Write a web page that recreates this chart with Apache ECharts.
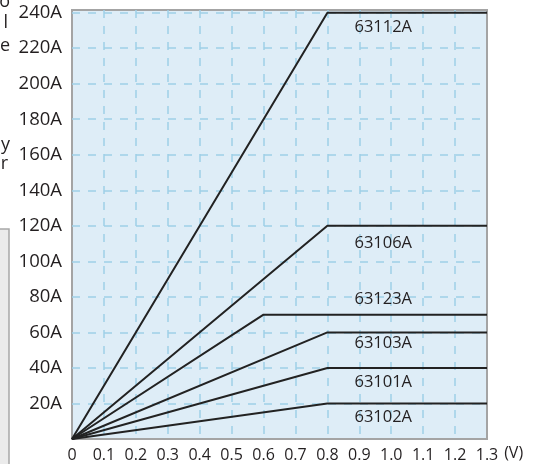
<!DOCTYPE html>
<html><head><meta charset="utf-8">
<script src="https://cdn.jsdelivr.net/npm/echarts@6/dist/echarts.min.js"></script>
<style>html,body{margin:0;padding:0;background:#fff}#c{width:538px;height:464px}</style>
</head><body><div id="c"></div>
<script>
// Data
const models = ['63112A', '63106A', '63123A', '63103A', '63101A', '63102A'];
const kneeVolt = [0.8, 0.8, 0.6, 0.8, 0.8, 0.8];
const maxCurrent = [240, 120, 70, 60, 40, 20];
const endVolt = 1.3;
const xTicks = ['0', '0.1', '0.2', '0.3', '0.4', '0.5', '0.6', '0.7', '0.8', '0.9', '1.0', '1.1', '1.2', '1.3'];
const yTicks = ['20A', '40A', '60A', '80A', '100A', '120A', '140A', '160A', '180A', '200A', '220A', '240A'];

// Layout (label placement, not data)
const labelX = 0.975;
const labelDy = [15, 17, -15, 11, 14, 14];

const FONT = 'Open Sans';
const chart = echarts.init(document.getElementById('c'), null, {renderer: 'canvas'});

const series = models.map((m, i) => ({
  type: 'line',
  name: m,
  data: [[0, 0], [kneeVolt[i], maxCurrent[i]], [endVolt, maxCurrent[i]]],
  symbol: 'none',
  lineStyle: {color: '#222', width: 2},
  silent: true,
  markPoint: {
    symbol: 'circle', symbolSize: 0, silent: true,
    data: [{coord: [labelX, maxCurrent[i]], name: m,
      label: {show: true, position: 'inside', formatter: m, offset: [0, labelDy[i]],
        color: '#231f20', fontSize: 16.5, fontFamily: FONT}}]
  }
}));

const split = {show: true, showMinLine: false, showMaxLine: false,
  lineStyle: {color: '#9fd0e8', width: 1.5, type: [8, 8]}};

chart.setOption({
  animation: false,
  backgroundColor: '#fff',
  grid: {left: 72, right: 51, top: 10, bottom: 25, show: true,
    backgroundColor: '#deedf7', borderColor: '#a4a4a4', borderWidth: 2},
  xAxis: {
    type: 'value', min: 0, max: 1.3, interval: 0.1,
    axisLine: {show: false}, axisTick: {show: false},
    axisLabel: {color: '#231f20', fontSize: 16, fontFamily: FONT, margin: 8,
      formatter: v => { const i = Math.round(v * 10); return xTicks[i] !== undefined && Math.abs(v * 10 - i) < 1e-6 ? xTicks[i] : ''; }},
    splitLine: split,
    name: '(V)', nameLocation: 'end', nameGap: 16,
    nameTextStyle: {color: '#231f20', fontSize: 16, fontFamily: FONT, verticalAlign: 'top', align: 'left', padding: [6, 0, 0, 0]}
  },
  yAxis: {
    type: 'value', min: 0, max: 241.5, interval: 20,
    axisLine: {show: false}, axisTick: {show: false},
    axisLabel: {color: '#231f20', fontSize: 18.5, fontFamily: FONT, margin: 10,
      formatter: v => { const i = Math.round(v / 20); return (Math.abs(v - i * 20) < 1e-6 && i >= 1) ? yTicks[i - 1] : ''; }},
    splitLine: split
  },
  graphic: [
    {type: 'rect', shape: {x: -5, y: 229, width: 14, height: 250}, style: {fill: '#ebebeb', stroke: '#a8a8a8', lineWidth: 1.5}},
    {type: 'text', style: {text: 'o', x: 10, y: 2, align: 'right', verticalAlign: 'middle', fontSize: 18, fontFamily: FONT, fill: '#231f20'}},
    {type: 'text', style: {text: 'l', x: 8, y: 23, align: 'right', verticalAlign: 'middle', fontSize: 18, fontFamily: FONT, fill: '#231f20'}},
    {type: 'text', style: {text: 'e', x: 10, y: 46, align: 'right', verticalAlign: 'middle', fontSize: 18, fontFamily: FONT, fill: '#231f20'}},
    {type: 'text', style: {text: 'y', x: 10, y: 145, align: 'right', verticalAlign: 'middle', fontSize: 18, fontFamily: FONT, fill: '#231f20'}},
    {type: 'text', style: {text: 'r', x: 8, y: 164, align: 'right', verticalAlign: 'middle', fontSize: 18, fontFamily: FONT, fill: '#231f20'}}
  ],
  series: series
});
</script>
</body></html>
